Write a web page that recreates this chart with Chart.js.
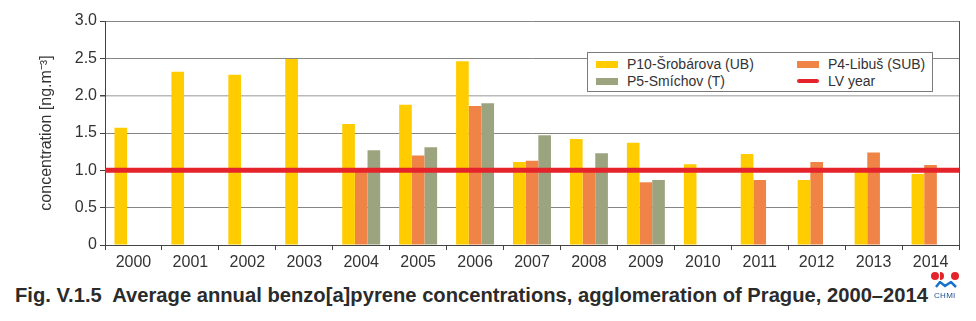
<!DOCTYPE html>
<html>
<head>
<meta charset="utf-8">
<script src="https://cdn.jsdelivr.net/npm/chart.js@4.4.1/dist/chart.umd.min.js"></script>
<style>
body { margin: 0; background: #fff; font-family: 'Liberation Sans', Arial, sans-serif; color: #333; }
#wrap { position: relative; width: 976px; height: 321px; overflow: hidden; }
#chartBox { position: absolute; left: 0; top: 0; width: 976px; height: 278px; }
#legend { position: absolute; left: 587px; top: 52px; width: 344px; height: 38px; border: 1px solid #7a7a7a; background: #fff; }
#legend .item { position: absolute; font-size: 14px; line-height: 16px; white-space: nowrap; color: #333; }
#legend .sw { position: absolute; width: 22px; }
#caption { position: absolute; left: 15px; top: 285px; font-size: 20px; line-height: 20px; font-weight: bold; white-space: pre; color: #2b2b2b; transform-origin: 0 0; }
.dot { position: absolute; background: #e4232b; border-radius: 50%; }
#chmi { position: absolute; left: 934px; top: 291px; font-size: 8px; line-height: 9px; color: #1f4f8f; letter-spacing: 0.3px; }
</style>
</head>
<body>
<div id="wrap">
  <div id="chartBox"><canvas id="chart"></canvas></div>
  <div id="legend"></div>
  <div id="caption">Fig. V.1.5  Average annual benzo[a]pyrene concentrations, agglomeration of Prague, 2000–2014</div>
  <div class="dot" style="left:931px;top:272px;width:8px;height:8px"></div>
  <div class="dot" style="left:940px;top:272px;width:4px;height:8px;border-radius:0 4px 4px 0"></div>
  <div class="dot" style="left:951px;top:272px;width:8px;height:8px"></div>
  <svg style="position:absolute;left:935px;top:281px" width="22" height="7">
    <path d="M1 6 L5 1 L10 5 L16 1 L21 6" stroke="#1a73c8" stroke-width="2.5" fill="none"/>
  </svg>
  <div id="chmi">CHMI</div>
</div>
<script>
const years = ['2000', '2001', '2002', '2003', '2004', '2005', '2006', '2007', '2008', '2009', '2010', '2011', '2012', '2013', '2014'];
const p10Srobarova = [1.57, 2.32, 2.28, 2.49, 1.62, 1.88, 2.46, 1.11, 1.42, 1.37, 1.08, 1.22, 0.87, 0.99, 0.95];
const p4Libus = [null, null, null, null, 1.03, 1.20, 1.86, 1.13, 1.01, 0.84, null, 0.87, 1.11, 1.24, 1.07];
const p5Smichov = [null, null, null, null, 1.27, 1.31, 1.90, 1.47, 1.23, 0.87, null, null, null, null, null];
const lvYear = 1.0;
const yTicks = [0, 0.5, 1, 1.5, 2, 2.5, 3];

const names = ['P10-Šrobárova (UB)', 'P4-Libuš (SUB)', 'P5-Smíchov (T)', 'LV year'];
const colors = ['#FFCC00', '#EF8446', '#9CA47F', '#E4232B'];

const fontFamily = "'Liberation Sans', Arial, sans-serif";
const textColor = '#333';

// linha do valor limite (LV) de borda a borda + moldura direita
const lvLinePlugin = {
	id: 'lvLine',
	afterDatasetsDraw(chart) {
		const { ctx, chartArea, scales } = chart;
		const yPix = scales.y.getPixelForValue(lvYear);
		ctx.save();
		ctx.strokeStyle = '#555';
		ctx.lineWidth = 1;
		ctx.beginPath();
		ctx.moveTo(chartArea.right + 0.5, chartArea.top);
		ctx.lineTo(chartArea.right + 0.5, chartArea.bottom);
		ctx.stroke();
		ctx.strokeStyle = colors[3];
		ctx.lineWidth = 5;
		ctx.beginPath();
		ctx.moveTo(chartArea.left, yPix);
		ctx.lineTo(chartArea.right, yPix);
		ctx.stroke();
		ctx.restore();
	}
};

const data = {
	labels: years,
	datasets: [{
		label: names[0],
		data: p10Srobarova,
		backgroundColor: colors[0]
	}, {
		label: names[1],
		data: p4Libus,
		backgroundColor: colors[1]
	}, {
		label: names[2],
		data: p5Smichov,
		backgroundColor: colors[2]
	}]
};

const config = {
	type: 'bar',
	data,
	plugins: [lvLinePlugin],
	options: {
		responsive: true,
		maintainAspectRatio: false,
		animation: false,
		categoryPercentage: 0.667,
		barPercentage: 1.0,
		layout: { padding: { top: 21, right: 17, left: 0, bottom: 0 } },
		plugins: { legend: { display: false }, tooltip: { enabled: false } },
		scales: {
			x: {
				grid: { display: true, drawOnChartArea: false, drawTicks: true, tickLength: 5, tickColor: '#444', offset: true },
				border: { color: '#444' },
				ticks: { color: textColor, font: { family: fontFamily, size: 16 }, padding: 3, maxRotation: 0, autoSkip: false },
				afterFit: scale => { scale.height = 33 }
			},
			y: {
				min: 0,
				max: 3,
				afterBuildTicks: scale => { scale.ticks = yTicks.map(v => ({ value: v })) },
				grid: {
					color: ctx => ctx.tick && ctx.tick.value === 2 ? '#b9b9b9' : '#858585',
					lineWidth: ctx => ctx.tick && ctx.tick.value === 2 ? 1.5 : 1,
					tickLength: 5,
					tickColor: '#444'
				},
				border: { color: '#444' },
				ticks: {
					color: textColor,
					font: { family: fontFamily, size: 16 },
					padding: 3,
					callback: v => v === 0 ? '0' : v.toFixed(1)
				},
				title: {
					display: true,
					text: 'concentration [ng.m⁻³]',
					color: textColor,
					font: { family: fontFamily, size: 16 },
					padding: { top: 37, bottom: 0 }
				},
				afterFit: scale => { scale.width = 105 }
			}
		}
	}
};

const myChart = new Chart(document.getElementById('chart'), config);

// legenda em HTML, duas colunas dentro da área do gráfico
const legendEl = document.getElementById('legend');
const legendItems = [
	{ i: 0, left: 8, top: 3, bar: true },
	{ i: 1, left: 209, top: 3, bar: true },
	{ i: 2, left: 8, top: 20, bar: true },
	{ i: 3, left: 209, top: 20, bar: false }
];
for (const it of legendItems) {
	const item = document.createElement('div');
	item.className = 'item';
	item.style.left = (it.left + 31) + 'px';
	item.style.top = it.top + 'px';
	item.textContent = names[it.i];
	const sw = document.createElement('span');
	sw.className = 'sw';
	sw.style.left = '-31px';
	sw.style.background = colors[it.i];
	if (it.bar) {
		sw.style.top = '5px';
		sw.style.height = '7px';
	} else {
		sw.style.top = '6px';
		sw.style.height = '4px';
		sw.style.borderRadius = '2px';
	}
	item.append(sw);
	legendEl.append(item);
}

// ajusta a largura da legenda inferior
const captionEl = document.getElementById('caption');
const natural = captionEl.getBoundingClientRect().width;
captionEl.style.transform = 'scaleX(' + (913 / natural) + ')';
</script>
</body>
</html>
